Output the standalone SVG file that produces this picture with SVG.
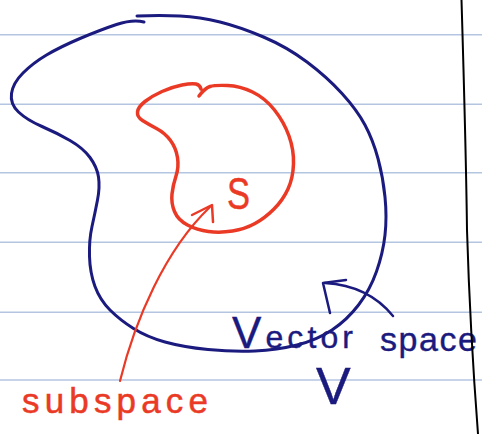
<svg xmlns="http://www.w3.org/2000/svg" width="482" height="434" viewBox="0 0 482 434">
<style>
.rule{stroke:#b3c5e0;stroke-width:1.5;fill:none}
.blue{stroke:#1b1a7e;fill:none;stroke-linecap:round;stroke-linejoin:round}
.red{stroke:#ea3a26;fill:none;stroke-linecap:round;stroke-linejoin:round}
.tblue{fill:#1b1a7e;stroke:#1b1a7e;stroke-width:0.4;font-family:"Liberation Sans",Arial,sans-serif}
.tred{fill:#ea3a26;stroke:#ea3a26;stroke-width:0.5;font-family:"Liberation Sans",Arial,sans-serif}
</style>
<rect width="482" height="434" fill="#ffffff"/>
<g id="paper">
<line class="rule" x1="0" y1="34.7" x2="482" y2="34.7"/>
<line class="rule" x1="0" y1="104.3" x2="482" y2="104.3"/>
<line class="rule" x1="0" y1="172.7" x2="482" y2="172.7"/>
<line class="rule" x1="0" y1="242.3" x2="482" y2="242.3"/>
<line class="rule" x1="0" y1="312.3" x2="482" y2="312.3"/>
<line class="rule" x1="0" y1="380" x2="482" y2="380"/>
</g>
<g id="vector-space">
<path class="blue" stroke-width="3" d="M137,16 Q160,15 180,16 Q200,17 220,22 Q240,27 263.5,37 Q287,47 307,62 Q327,77 342,93.5 Q357,110 365,125 Q373,140 378,158.5 Q383,177 385,197 Q387,217 385,235 Q383,253 376.5,271.5 Q370,290 358.5,305 Q347,320 332,330 Q317,340 297,345 Q277,350 255,351 Q233,352 208,349.5 Q183,347 165,342 Q147,337 133.5,328.5 Q120,320 110,310 Q100,300 95,286.5 Q90,273 89.5,256.5 Q89,240 92,226.5 Q95,213 97.5,200 Q100,187 98.5,177 Q97,167 90,157.5 Q83,148 70,140.5 Q57,133 42,126.5 Q27,120 18.5,112 Q10,104 11.5,93.5 Q13,83 23,73 Q33,63 46.5,55 Q60,47 80,38.5 Q100,30 116.5,24.5 Q133,19 144,22"/>
</g>
<g id="subspace">
<path class="red" stroke-width="3.5" d="M199,96 Q205,88 210,86.5 Q215,85 227.5,85.5 Q240,86 252.5,92 Q265,98 274.5,110 Q284,122 289,136 Q294,150 293.5,164 Q293,178 288,189 Q283,200 274,209 Q265,218 255,223.5 Q245,229 232.5,231 Q220,233 208.5,231.5 Q197,230 187.5,225 Q178,220 174.5,211.5 Q171,203 172,194 Q173,185 176,176 Q179,167 177.5,157.5 Q176,148 170.5,140.5 Q165,133 156.5,128.5 Q148,124 142.5,120.5 Q137,117 137.5,112 Q138,107 145,101.5 Q152,96 162,91.5 Q172,87 182,85 Q192,83 196,84 Q200,85 201,89"/>
<text class="tred" x="227" y="209" font-size="45" textLength="23" lengthAdjust="spacingAndGlyphs">S</text>
</g>
<g id="connectors">
<path class="red" stroke-width="2.2" d="M120,381 C135,320 165,250 210,207"/>
<path class="red" stroke-width="2.5" d="M192,215 L212,205 L213,222"/>
<path class="blue" stroke-width="2.5" d="M393,316 C380,300 360,285 325,283"/>
<path class="blue" stroke-width="2.5" d="M346,280 L323,283 L330,313"/>
</g>
<g id="labels">
<text class="tred" x="22" y="413" font-size="35" textLength="186" lengthAdjust="spacing">subspace</text>
<text class="tblue" x="232" y="348" font-size="32" textLength="121" lengthAdjust="spacing"><tspan font-size="44">V</tspan>ector</text>
<text class="tblue" x="380" y="351" font-size="34" textLength="97" lengthAdjust="spacing">space</text>
<text class="tblue" x="316" y="404" font-size="52">V</text>
</g>
<path id="margin" d="M461.5,0 Q466,150 467,230 Q470,330 478,434" stroke="#000" stroke-width="2" fill="none"/>
</svg>
